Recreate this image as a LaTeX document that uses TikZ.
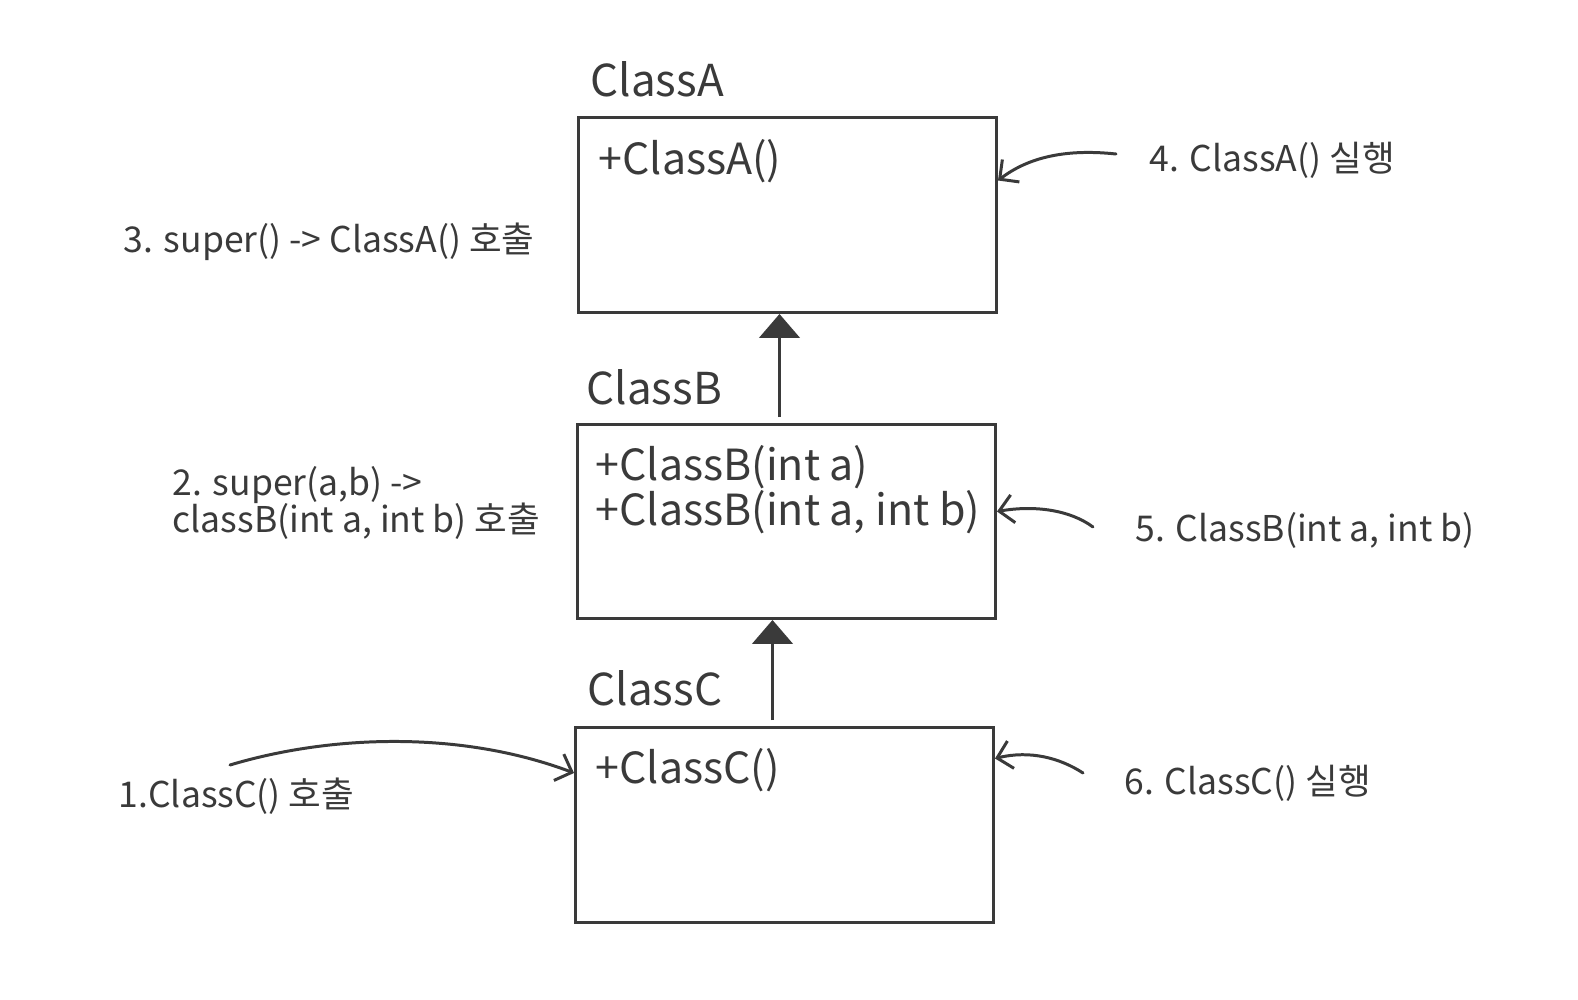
\documentclass[tikz,border=0pt]{standalone}
\usepackage{fontspec}
\setmainfont{Noto Sans CJK KR}
\usetikzlibrary{arrows.meta}
\definecolor{ink}{HTML}{3A3A3A}
\tikzset{
  box/.style={draw=ink, line width=0.85pt, minimum width=418*0.01cm, anchor=north west, inner sep=0pt},
  ttl/.style={anchor=base west, inner sep=0pt, text=ink, font=\fontsize{12.5}{15}\selectfont},
  member/.style={anchor=base west, inner sep=0pt, text=ink, align=left, font=\fontsize{12.2}{14.5}\selectfont},
  lbl/.style={anchor=base west, inner sep=0pt, text=ink, align=left, font=\fontsize{10.1}{10}\selectfont},
  inherit/.style={draw=ink, line width=0.85pt, -{Triangle[width=11.5pt,length=6.8pt]}},
  call/.style={draw=ink, line width=0.85pt, line cap=round, -{Straight Barb[length=4pt,width=8pt,line width=0.85pt]}},
}
\begin{document}
\begin{tikzpicture}[x=0.01cm,y=-0.01cm]
\useasboundingbox (0,0) rectangle (1578,1000);
\fill[white] (0,0) rectangle (1578,1000);
% boxes
\node[box, minimum height=195*0.01cm] (A) at (577,116) {};
\node[box, minimum height=194*0.01cm] (B) at (576,423) {};
\node[box, minimum height=195*0.01cm] (C) at (574,726) {};
% titles
\node[ttl] (tA) at (590,97) {ClassA};
\node[ttl] (tB) at (586,404) {ClassB};
\node[ttl] (tC) at (587,705) {ClassC};
% members
\node[member] (mA) at (598,174) {+ClassA()};
\node[member] (mB1) at (595,480) {+ClassB(int a)};
\node[member] (mB2) at (595,525) {+ClassB(int a, int b)};
\node[member] (mC) at (595,783) {+ClassC()};
% inheritance arrows
\coordinate (bTop) at ([xshift=-7*0.01cm, yshift=6*0.01cm]B.north);
\coordinate (cTop) at ([xshift=-12*0.01cm, yshift=6*0.01cm]C.north);
\draw[inherit] (bTop) -- (bTop |- A.south);
\draw[inherit] (cTop) -- (cTop |- B.south);
% labels
\node[lbl] (l4) at (1149,171) {4. ClassA() 실행};
\node[lbl] (l3) at (123,252) {3. super() -> ClassA() 호출};
\node[lbl] (l2) at (172,532) {2. super(a,b) ->\\[-1.4pt]classB(int a, int b) 호출};
\node[lbl] (l5) at (1135,541) {5. ClassB(int a, int b)};
\node[lbl] (l1) at (118,807) {1.ClassC() 호출};
\node[lbl] (l6) at (1124,794) {6. ClassC() 실행};
% call arrows
\coordinate (s4) at (1116,154);
\coordinate (s5) at (1093,527);
\coordinate (s6) at (1083,773);
\coordinate (s1) at (230,765);
\draw[call] (s4) .. controls (1060,148) and (1025,160) .. ([yshift=34.5*0.01cm]A.east);
\draw[call] (s5) .. controls (1070,510) and (1035,505) .. ([yshift=10*0.01cm]B.east);
\draw[call] (s6) .. controls (1060,758) and (1030,750) .. ([yshift=66.5*0.01cm]C.east);
\draw[call] (s1) .. controls (330,735) and (460,730) .. ([yshift=-47*0.01cm]C.north west);
\end{tikzpicture}
\end{document}
